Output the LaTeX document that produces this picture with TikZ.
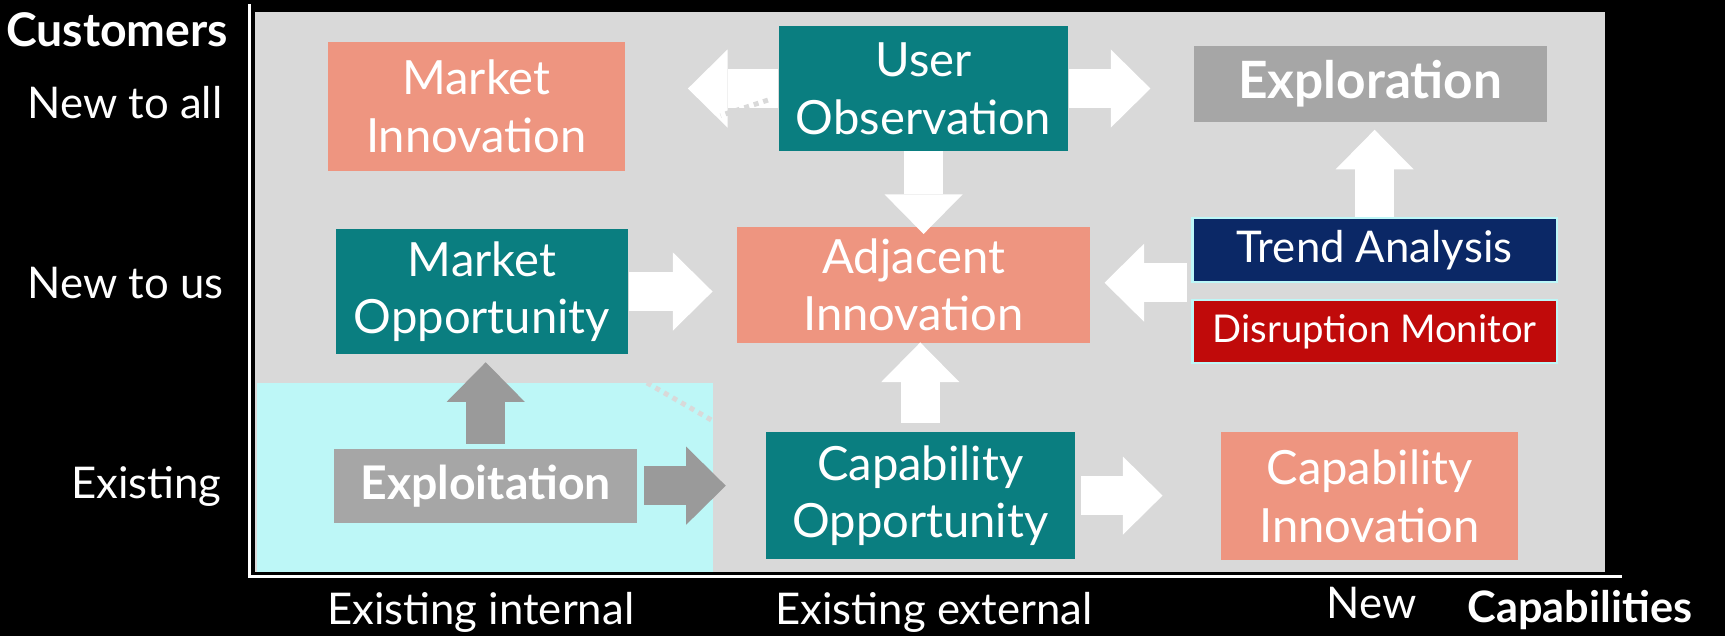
\documentclass[tikz,border=0pt]{standalone}
\usepackage{fontspec}
\setmainfont{Lato}
\usetikzlibrary{arrows.meta}
\definecolor{panel}{HTML}{D9D9D9}
\definecolor{cyanbg}{HTML}{BDF7F7}
\definecolor{salmonbox}{HTML}{EE9580}
\definecolor{tealbox}{HTML}{0A7E80}
\definecolor{greybox}{HTML}{A6A6A6}
\definecolor{greyarrow}{HTML}{9A9A9A}
\definecolor{navybox}{HTML}{0B2866}
\definecolor{redbox}{HTML}{C00A0A}
\begin{document}
\begin{tikzpicture}[x=0.1mm,y=-0.1mm,
 box/.style={rectangle, inner sep=0pt, text=white, align=center, font=\fontsize{12.2}{14.9}\selectfont},
 salbox/.style={box, fill=salmonbox},
 tealb/.style={box, fill=tealbox},
 greyb/.style={box, fill=greybox, font=\fontsize{12}{14}\selectfont\bfseries},
 monbox/.style={box, draw=cyanbg, line width=0.2mm, font=\fontsize{11.3}{13}\selectfont},
 axlabel/.style={text=white, inner sep=0pt, font=\fontsize{11.3}{13}\selectfont},
 axtitle/.style={text=white, inner sep=0pt, font=\fontsize{12}{13}\selectfont\bfseries},
 fat/.style={line width=3.5mm, -{Triangle[length=3.6mm, width=7.1mm, line width=0pt]}},
 whitearrow/.style={fat, draw=white},
 greyarrowst/.style={fat, draw=greyarrow},
 hidden/.style={draw=panel, line width=0.45mm, dash pattern=on 0.45mm off 0.45mm}
]
\useasboundingbox (0,0) rectangle (1568,578);
\fill[black] (0,0) rectangle (1568,578);
% panel and zone
\fill[panel] (232,11) rectangle (1459,520);
\fill[cyanbg] (234,348) rectangle (648,520);
\draw[hidden] (588,348) -- (647,382);
% axes
\draw[white, line width=0.3mm] (227,4) -- (227,524) -- (1474,524);
% axis labels
\node[axtitle, anchor=base east] (cust) at (208,42) {Customers};
\node[axlabel, anchor=base east] (nta) at (203,108) {New to all};
\node[axlabel, anchor=base east] (ntu) at (204,271) {New to us};
\node[axlabel, anchor=base east] (exi) at (202,453) {Existing};
\node[axlabel, anchor=base] (ei) at (437,568) {Existing internal};
\node[axlabel, anchor=base] (ee) at (849,568) {Existing external};
\node[axlabel, anchor=base] (nw) at (1247,562) {New};
\node[axtitle, anchor=base, font=\fontsize{11.2}{13}\selectfont\bfseries] (capab) at (1436,566) {Capabilities};
% boxes
\node[salbox, minimum width=27mm, minimum height=11.7mm] (mi) at (433,96.5) {Market\\Innovation};
\node[tealb, minimum width=26.3mm, minimum height=11.3mm] (uo) at (839.5,80.5) {User\\Observation};
\node[greyb, minimum width=32.1mm, minimum height=6.9mm, font=\fontsize{13.3}{15}\selectfont\bfseries] (expl) at (1245.5,76.5) {Exploration};
\node[tealb, minimum width=26.6mm, minimum height=11.4mm] (mo) at (438,265) {Market\\Opportunity};
\node[salbox, minimum width=32.1mm, minimum height=10.6mm] (adj) at (830.5,259) {Adjacent\\Innovation};
\node[monbox, fill=navybox, minimum width=33.1mm, minimum height=5.8mm] (ta) at (1249.5,227) {Trend Analysis};
\node[monbox, fill=redbox, minimum width=33.1mm, minimum height=5.7mm, font=\fontsize{9.9}{12}\selectfont] (dm) at (1249.5,301.5) {Disruption Monitor};
\node[greyb, minimum width=27.5mm, minimum height=6.7mm] (ex) at (441.5,441.5) {Exploitation};
\node[tealb, minimum width=28.1mm, minimum height=11.5mm] (co) at (836.5,450.5) {Capability\\Opportunity};
\node[salbox, minimum width=27mm, minimum height=11.6mm] (ci) at (1245,451) {Capability\\Innovation};
% arrows
\draw[whitearrow] (uo.west) -- ++(-82,0);
\draw[whitearrow] (uo.east) -- ++(74,0);
\draw[whitearrow] (uo.south) -- ++(0,75);
\draw[whitearrow] (ta.north) -- ++(0,-79);
\draw[whitearrow] ([xshift=-0.4mm]ta.south west) -- ++(-75,0);
\draw[whitearrow] (mo.east) -- ++(76,0);
\draw[whitearrow] ([yshift=0.8mm]co.north) -- ++(0,-73);
\draw[whitearrow] ([xshift=0.5mm]co.east) -- ++(74,0);
\draw[greyarrowst] ([yshift=0.4mm]ex.north) -- ++(0,-74);
\draw[greyarrowst] ([xshift=0.6mm]ex.east) -- ++(74,0);
\draw[hidden] (698,91) -- (655,105);
\end{tikzpicture}
\end{document}
